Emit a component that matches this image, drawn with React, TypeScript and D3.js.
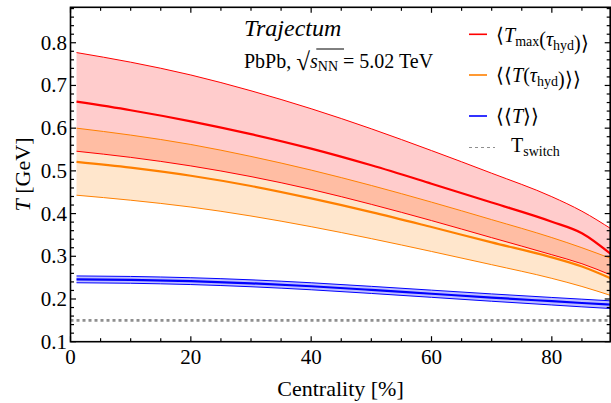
import React, { useEffect, useRef } from "react";
import * as d3 from "d3";

// Centrality bins (%) and temperatures (GeV)
const centrality = [1, 10, 20, 30, 40, 50, 60, 70, 80, 85, 90];
const tMaxHi = [0.777, 0.7545, 0.7245, 0.6875, 0.6455, 0.5985, 0.5475, 0.4945, 0.4395, 0.4055, 0.363];
const tMaxMid = [0.662, 0.642, 0.616, 0.586, 0.552, 0.513, 0.47, 0.426, 0.381, 0.354, 0.303];
const tMaxLo = [0.546, 0.5316, 0.5116, 0.4866, 0.4566, 0.4216, 0.3836, 0.3436, 0.3036, 0.2826, 0.2551];
const tHydHi = [0.6, 0.5838, 0.5618, 0.5338, 0.5018, 0.4658, 0.4268, 0.3858, 0.3438, 0.32, 0.294];
const tHydMid = [0.521, 0.5075, 0.4885, 0.4645, 0.4355, 0.4035, 0.3685, 0.3325, 0.2975, 0.276, 0.247];
const tHydLo = [0.443, 0.4313, 0.4153, 0.3943, 0.3693, 0.3413, 0.3113, 0.2803, 0.2483, 0.2293, 0.2073];
const tAvgHi = [0.254, 0.2528, 0.2498, 0.2449, 0.238, 0.2296, 0.2207, 0.2119, 0.2036, 0.1996, 0.1955];
const tAvgMid = [0.246, 0.2448, 0.2418, 0.2368, 0.2298, 0.2213, 0.2123, 0.2033, 0.1948, 0.1906, 0.1865];
const tAvgLo = [0.238, 0.2368, 0.2338, 0.2287, 0.2216, 0.213, 0.2039, 0.1947, 0.186, 0.1816, 0.1775];
const tSwitch = 0.15;

const xTicks = [0, 20, 40, 60, 80];
const yTicks = [0.1, 0.2, 0.3, 0.4, 0.5, 0.6, 0.7, 0.8];

const W = 611;
const H = 403;
const FONT = "'Liberation Serif', 'Times New Roman', serif";

export default function App() {
  const ref = useRef<SVGSVGElement>(null);

  useEffect(() => {
    const svg = d3.select(ref.current);
    svg.selectAll("*").remove();

    const x = d3.scaleLinear().domain([0, 89.7]).range([70.5, 610.2]);
    const y = d3.scaleLinear().domain([0.1, 0.883]).range([341.7, 7.3]);
    const [x0, x1] = x.range();
    const [yb, yt] = y.range();

    svg
      .append("defs")
      .append("clipPath")
      .attr("id", "plotClip")
      .append("rect")
      .attr("x", x0)
      .attr("y", yt)
      .attr("width", x1 - x0)
      .attr("height", yb - yt);

    const plot = svg.append("g").attr("clip-path", "url(#plotClip)");

    const area = (lo: number[], hi: number[]) =>
      d3
        .area<number>()
        .x((_, i) => x(centrality[i]))
        .y0((_, i) => y(lo[i]))
        .y1((_, i) => y(hi[i]))
        .curve(d3.curveMonotoneX)(centrality);
    const line = (vals: number[]) =>
      d3
        .line<number>()
        .x((_, i) => x(centrality[i]))
        .y((_, i) => y(vals[i]))
        .curve(d3.curveMonotoneX)(centrality);

    const bands = [
      { lo: tMaxLo, mid: tMaxMid, hi: tMaxHi, color: "#ff0000", op: 0.2 },
      { lo: tHydLo, mid: tHydMid, hi: tHydHi, color: "#ff8000", op: 0.2 },
      { lo: tAvgLo, mid: tAvgMid, hi: tAvgHi, color: "#0000ff", op: 0.25 },
    ];

    bands.forEach((b) => {
      plot.append("path").attr("d", area(b.lo, b.hi)).attr("fill", b.color).attr("fill-opacity", b.op);
    });
    bands.forEach((b) => {
      [b.lo, b.hi].forEach((v) =>
        plot.append("path").attr("d", line(v)).attr("fill", "none").attr("stroke", b.color).attr("stroke-width", 1)
      );
      plot.append("path").attr("d", line(b.mid)).attr("fill", "none").attr("stroke", b.color).attr("stroke-width", 2.2);
    });

    plot
      .append("line")
      .attr("x1", x0)
      .attr("x2", x1)
      .attr("y1", y(tSwitch))
      .attr("y2", y(tSwitch))
      .attr("stroke", "#8f8f8f")
      .attr("stroke-width", 2.6)
      .attr("stroke-dasharray", "3,3");

    // Frame with inward ticks on all sides
    const axes = svg.append("g").attr("stroke", "#000");
    axes
      .append("rect")
      .attr("x", x0)
      .attr("y", yt)
      .attr("width", x1 - x0)
      .attr("height", yb - yt)
      .attr("fill", "none")
      .attr("stroke-width", 1.6);

    d3.range(0, 90, 5).forEach((v) => {
      const major = v % 20 === 0;
      const len = major ? 5.5 : 3.5;
      axes.append("line").attr("x1", x(v)).attr("x2", x(v)).attr("y1", yb).attr("y2", yb - len).attr("stroke-width", 1.2);
      axes.append("line").attr("x1", x(v)).attr("x2", x(v)).attr("y1", yt).attr("y2", yt + len).attr("stroke-width", 1.2);
    });
    d3.range(0.1, 0.885, 0.02).forEach((v) => {
      const major = Math.abs(Math.round(v * 10) - v * 10) < 1e-6;
      const len = major ? 5.5 : 3.5;
      axes.append("line").attr("x1", x0).attr("x2", x0 + len).attr("y1", y(v)).attr("y2", y(v)).attr("stroke-width", 1.2);
      axes.append("line").attr("x1", x1).attr("x2", x1 - len).attr("y1", y(v)).attr("y2", y(v)).attr("stroke-width", 1.2);
    });

    const txt = svg.append("g").attr("font-family", FONT).attr("fill", "#000");

    xTicks.forEach((v) => {
      txt
        .append("text")
        .attr("x", x(v))
        .attr("y", 364)
        .attr("text-anchor", "middle")
        .attr("font-size", 21)
        .text(String(v));
    });
    yTicks.forEach((v) => {
      txt
        .append("text")
        .attr("x", 67)
        .attr("y", y(v) + 7)
        .attr("text-anchor", "end")
        .attr("font-size", 21)
        .text(v.toFixed(1));
    });

    // Axis titles
    txt
      .append("text")
      .attr("x", 340.5)
      .attr("y", 396)
      .attr("text-anchor", "middle")
      .attr("font-size", 22)
      .text("Centrality [%]");
    const yl = txt
      .append("text")
      .attr("transform", `translate(30,${(yb + yt) / 2}) rotate(-90)`)
      .attr("text-anchor", "middle")
      .attr("font-size", 22);
    yl.append("tspan").attr("font-style", "italic").text("T");
    yl.append("tspan").text(" [GeV]");

    // Annotation
    txt
      .append("text")
      .attr("x", 244)
      .attr("y", 36)
      .attr("font-size", 24)
      .attr("font-style", "italic")
      .text("Trajectum");

    const ann = txt.append("text").attr("x", 244).attr("y", 68).attr("font-size", 20);
    ann.append("tspan").text("PbPb,  ");
    ann.append("tspan").attr("font-size", 25).attr("dy", 2).text("√");
    ann.append("tspan").attr("font-style", "italic").attr("dy", -2).text("s");
    ann.append("tspan").attr("font-size", 14).attr("dy", 3).text("NN");
    ann.append("tspan").attr("dy", -3).text(" = 5.02 TeV");

    const annNode = ann.node() as SVGTextElement;
    try {
      const radEnd = annNode.getEndPositionOfChar(7);
      const nnEnd = annNode.getEndPositionOfChar(10);
      txt
        .append("line")
        .attr("x1", radEnd.x - 1.5)
        .attr("x2", nnEnd.x + 1)
        .attr("y1", 49)
        .attr("y2", 49)
        .attr("stroke", "#000")
        .attr("stroke-width", 1);
    } catch (e) {
      /* measurement unavailable */
    }

    // Legend
    const leg = svg.append("g").attr("font-family", FONT);
    const rows = [
      { color: "#ff0000", y: 34.3, dash: null as string | null },
      { color: "#ff8000", y: 75, dash: null },
      { color: "#0000ff", y: 116, dash: null },
      { color: "#8f8f8f", y: 147.5, dash: "3,3" },
    ];
    rows.forEach((r, i) => {
      leg
        .append("line")
        .attr("x1", 469)
        .attr("x2", i === 3 ? 495 : 487)
        .attr("y1", r.y)
        .attr("y2", r.y)
        .attr("stroke", r.color)
        .attr("stroke-width", i === 3 ? 1.2 : 1.6)
        .attr("stroke-dasharray", r.dash);
    });

    const sub = (t: d3.Selection<SVGTextElement, unknown, null, undefined>, s: string) => {
      t.append("tspan").attr("font-size", 14).attr("dy", 4).text(s);
      t.append("tspan").attr("dy", -4).text("");
    };

    const l1 = leg.append("text").attr("x", 496).attr("y", 41.5).attr("font-size", 20);
    l1.append("tspan").text("⟨");
    l1.append("tspan").attr("font-style", "italic").text("T");
    sub(l1, "max");
    l1.append("tspan").text("(");
    l1.append("tspan").attr("font-style", "italic").text("τ");
    sub(l1, "hyd");
    l1.append("tspan").text(")⟩");

    const l2 = leg.append("text").attr("x", 496).attr("y", 82).attr("font-size", 20);
    l2.append("tspan").text("⟨⟨");
    l2.append("tspan").attr("font-style", "italic").text("T");
    l2.append("tspan").text("(");
    l2.append("tspan").attr("font-style", "italic").text("τ");
    sub(l2, "hyd");
    l2.append("tspan").text(")⟩⟩");

    const l3 = leg.append("text").attr("x", 496).attr("y", 123).attr("font-size", 20);
    l3.append("tspan").text("⟨⟨");
    l3.append("tspan").attr("font-style", "italic").text("T");
    l3.append("tspan").text("⟩⟩");

    const l4 = leg.append("text").attr("x", 511).attr("y", 152).attr("font-size", 20);
    l4.append("tspan").text("T");
    sub(l4, "switch");
  }, []);

  return (
    <svg
      ref={ref}
      width={W}
      height={H}
      style={{ position: "absolute", left: 0, top: 0, background: "#fff" }}
    />
  );
}
